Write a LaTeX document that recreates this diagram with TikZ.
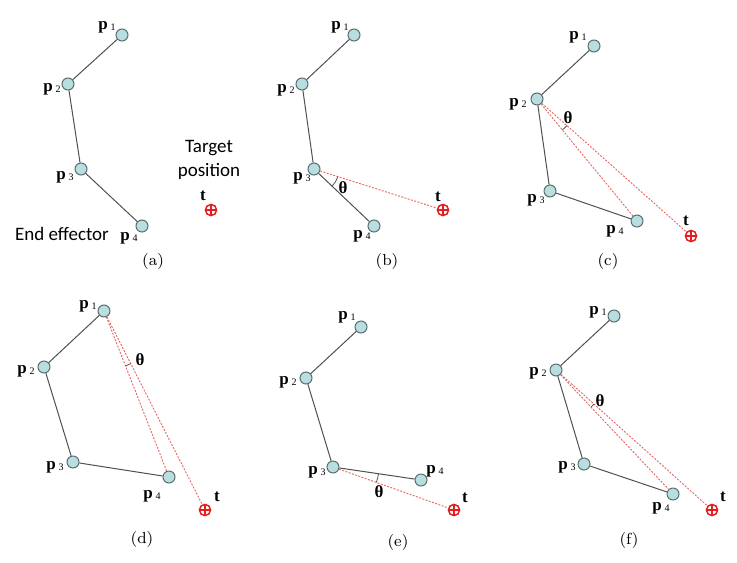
\documentclass[tikz,border=0pt]{standalone}
\usepackage{fontspec}
\usepackage{tikz}
\usetikzlibrary{angles}
\newfontfamily\tnr{Liberation Serif}
\newfontfamily\calibri{Carlito}
\definecolor{jointfill}{RGB}{184,222,224}
\definecolor{jointline}{RGB}{90,110,112}
\definecolor{linkgray}{RGB}{80,80,80}
\definecolor{guidered}{RGB}{232,100,100}
\definecolor{targetred}{RGB}{226,30,30}
\newcommand{\plab}[1]{p\,{\fontsize{5}{5}\selectfont\mdseries\raisebox{-0.35ex}{#1}}}
\tikzstyle{joint} = [circle, draw=jointline, fill=jointfill, line width=0.5pt, minimum size=6pt, inner sep=0pt]
\tikzstyle{target} = [circle, draw=targetred, line width=0.75pt, minimum size=5.6pt, inner sep=0pt, path picture={\draw[targetred, line width=0.75pt] (path picture bounding box.north) -- (path picture bounding box.south) (path picture bounding box.west) -- (path picture bounding box.east);}]
\tikzstyle{link} = [draw=linkgray, line width=0.5pt]
\tikzstyle{guide} = [draw=guidered, line width=0.45pt, dash pattern=on 1pt off 0.7pt]
\tikzstyle{plabel} = [inner sep=0pt, font=\tnr\bfseries\fontsize{8.5}{8.5}\selectfont]
\tikzstyle{subcap} = [inner sep=0pt, font=\fontsize{8}{9}\selectfont]
\tikzstyle{note} = [inner sep=0pt, align=center, font=\calibri\fontsize{9.5}{12}\selectfont]
\tikzstyle{anglemark} = [draw=linkgray, line width=0.4pt]
\begin{document}
\begin{tikzpicture}[x=0.5pt, y=-0.5pt]
	\useasboundingbox (0,0) rectangle (737,562);

	% (a)
	\node (p1a) [joint] at (122,35) {};
	\node (p2a) [joint] at (68,84) {};
	\node (p3a) [joint] at (81,169) {};
	\node (p4a) [joint] at (142,226) {};
	\node (ta) [target] at (211,210) {};
	\draw [link] (p1a) -- (p2a) -- (p3a) -- (p4a);
	\node (l1a) [plabel] at (107,27) {\plab{1}};
	\node (l2a) [plabel] at (52,89) {\plab{2}};
	\node (l3a) [plabel] at (65,177) {\plab{3}};
	\node (l4a) [plabel] at (129,238) {\plab{4}};
	\node (lta) [plabel] at (203,196) {t};
	\node (goal) [note] at (209,160) {Target\\position};
	\node (effector) [note] at (62,234) {End effector};
	\node (capa) [subcap] at (153,261) {(a)};

	% (b)
	\node (p1b) [joint] at (354,35) {};
	\node (p2b) [joint] at (302,84) {};
	\node (p3b) [joint] at (314,169) {};
	\node (p4b) [joint] at (374,226) {};
	\node (tb) [target] at (443,210) {};
	\draw [link] (p1b) -- (p2b) -- (p3b) -- (p4b);
	\draw [guide] (p3b) -- (tb);
	\pic [anglemark, angle radius=12.5pt] {angle = p4b--p3b--tb};
	\node (l1b) [plabel] at (340,27) {\plab{1}};
	\node (l2b) [plabel] at (286,90) {\plab{2}};
	\node (l3b) [plabel] at (302,178) {\plab{3}};
	\node (l4b) [plabel] at (362,236) {\plab{4}};
	\node (ltb) [plabel] at (438,197) {t};
	\node (thb) [plabel] at (343,188) {θ};
	\node (capb) [subcap] at (387,261) {(b)};

	% (c)
	\node (p1c) [joint] at (594,46) {};
	\node (p2c) [joint] at (537,99) {};
	\node (p3c) [joint] at (550,191) {};
	\node (p4c) [joint] at (637,221) {};
	\node (tc) [target] at (691,236) {};
	\draw [link] (p1c) -- (p2c) -- (p3c) -- (p4c);
	\draw [guide] (p2c) -- (p4c);
	\draw [guide] (p2c) -- (tc);
	\pic [anglemark, angle radius=20pt] {angle = p4c--p2c--tc};
	\node (l1c) [plabel] at (578,37) {\plab{1}};
	\node (l2c) [plabel] at (518,104) {\plab{2}};
	\node (l3c) [plabel] at (536,200) {\plab{3}};
	\node (l4c) [plabel] at (615,231) {\plab{4}};
	\node (ltc) [plabel] at (686,221) {t};
	\node (thc) [plabel] at (568,118) {θ};
	\node (capc) [subcap] at (608,261) {(c)};

	% (d)
	\node (p1d) [joint] at (104,311) {};
	\node (p2d) [joint] at (44,367) {};
	\node (p3d) [joint] at (73,462) {};
	\node (p4d) [joint] at (169,477) {};
	\node (td) [target] at (205,510) {};
	\draw [link] (p1d) -- (p2d) -- (p3d) -- (p4d);
	\draw [guide] (p1d) -- (p4d);
	\draw [guide] (p1d) -- (td);
	\pic [anglemark, angle radius=29.5pt] {angle = p4d--p1d--td};
	\node (l1d) [plabel] at (88,306) {\plab{1}};
	\node (l2d) [plabel] at (26,371) {\plab{2}};
	\node (l3d) [plabel] at (55,467) {\plab{3}};
	\node (l4d) [plabel] at (152,496) {\plab{4}};
	\node (ltd) [plabel] at (217,497) {t};
	\node (thd) [plabel] at (140,360) {θ};
	\node (capd) [subcap] at (142,539) {(d)};

	% (e)
	\node (p1e) [joint] at (361,327) {};
	\node (p2e) [joint] at (306,378) {};
	\node (p3e) [joint] at (333,467) {};
	\node (p4e) [joint] at (421,480) {};
	\node (te) [target] at (454,510) {};
	\draw [link] (p1e) -- (p2e) -- (p3e) -- (p4e);
	\draw [guide] (p3e) -- (te);
	\pic [anglemark, angle radius=23pt] {angle = te--p3e--p4e};
	\node (l1e) [plabel] at (347,317) {\plab{1}};
	\node (l2e) [plabel] at (288,382) {\plab{2}};
	\node (l3e) [plabel] at (317,472) {\plab{3}};
	\node (l4e) [plabel] at (435,471) {\plab{4}};
	\node (lte) [plabel] at (465,498) {t};
	\node (the) [plabel] at (379,492) {θ};
	\node (cape) [subcap] at (398,542) {(e)};

	% (f)
	\node (p1f) [joint] at (614,316) {};
	\node (p2f) [joint] at (556,370) {};
	\node (p3f) [joint] at (584,464) {};
	\node (p4f) [joint] at (673,494) {};
	\node (tf) [target] at (712,510) {};
	\draw [link] (p1f) -- (p2f) -- (p3f) -- (p4f);
	\draw [guide] (p2f) -- (p4f);
	\draw [guide] (p2f) -- (tf);
	\pic [anglemark, angle radius=25.5pt] {angle = p4f--p2f--tf};
	\node (l1f) [plabel] at (598,312) {\plab{1}};
	\node (l2f) [plabel] at (538,373) {\plab{2}};
	\node (l3f) [plabel] at (567,467) {\plab{3}};
	\node (l4f) [plabel] at (661,508) {\plab{4}};
	\node (ltf) [plabel] at (723,497) {t};
	\node (thf) [plabel] at (600,401) {θ};
	\node (capf) [subcap] at (629,540) {(f)};

\end{tikzpicture}
\end{document}
